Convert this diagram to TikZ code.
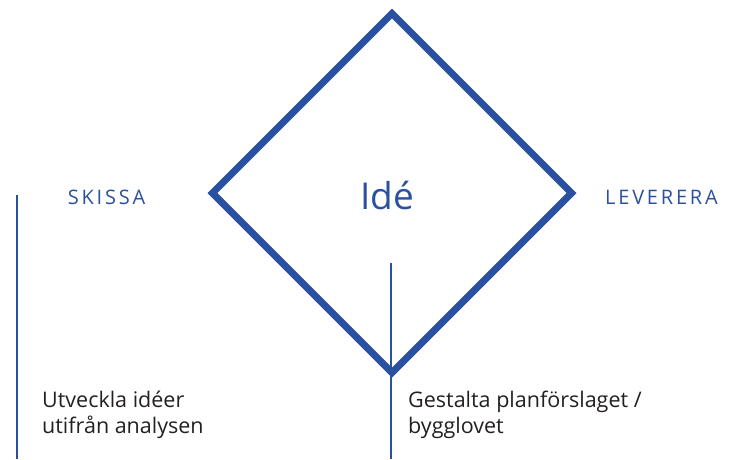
\documentclass[tikz,border=0pt]{standalone}
\usepackage{fontspec}
\setmainfont{Open Sans}
\usetikzlibrary{shapes.geometric}
\definecolor{ideblue}{RGB}{42,80,160}
\definecolor{bodygray}{RGB}{35,31,32}
\tikzset{
  bigdiamond/.style={diamond, draw=ideblue, line width=7pt, minimum width=362pt, minimum height=362pt, inner sep=0pt, miter limit=10},
  stem/.style={draw=ideblue, line width=2.5pt},
  phase/.style={text=ideblue, font=\fontsize{20}{22}\selectfont\addfontfeatures{LetterSpace=14}, inner sep=0pt, anchor=base},
  bigword/.style={text=ideblue, font=\fontsize{37}{40}\selectfont, inner sep=0pt, anchor=base},
  body/.style={text=bodygray, font=\fontsize{21.5}{26}\selectfont, align=left, inner sep=0pt, anchor=base west}
}
\begin{document}
\begin{tikzpicture}[x=1pt,y=-1pt]
\useasboundingbox (0,0) rectangle (734,459);
\node[bigdiamond] (dia) at (392,193) {};
\node[bigword] (ide) at (387,209) {Idé};
\node[phase] (skissa) at (106.5,204) {SKISSA};
\node[phase] (leverera) at (661.5,204) {LEVERERA};
\coordinate (ltop) at (17,195);
\coordinate (lbot) at (17,459);
\coordinate (mtop) at (391,263);
\coordinate (mbot) at (391,459);
\draw[stem] (ltop) -- (lbot);
\draw[stem] (mtop) -- (mbot);
\node[body] (left) at (42,433) {Utveckla idéer\\utifrån analysen};
\node[body] (right) at (408,433) {Gestalta planförslaget /\\bygglovet};
\end{tikzpicture}
\end{document}
